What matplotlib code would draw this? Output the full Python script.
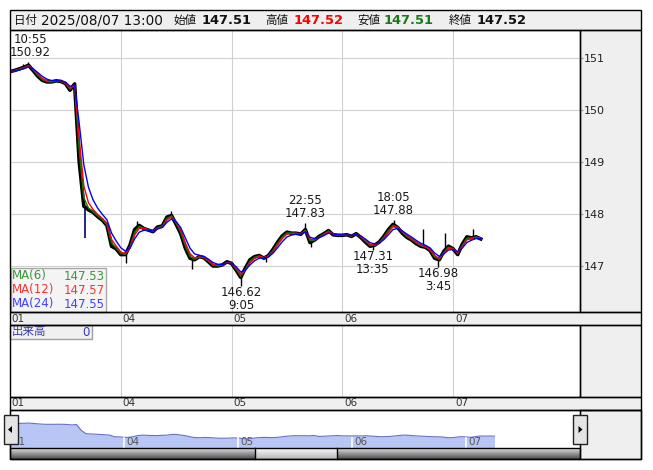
import numpy as np
import pandas as pd
import matplotlib
matplotlib.use('Agg')
import matplotlib.pyplot as plt
from matplotlib.patches import Rectangle, Polygon
from matplotlib.lines import Line2D
from matplotlib.transforms import Affine2D, blended_transform_factory

plt.rcParams['font.family'] = ['DejaVu Sans', 'Noto Sans CJK JP']

# 1時間ごとの終値 (8/1 7:00 から)
price = [150.74, 150.76, 150.79, 150.82, 150.86, 150.76, 150.65, 150.57, 150.54, 150.54,
         150.56, 150.55, 150.51, 150.38, 150.50, 149.00, 148.15, 148.08, 148.03, 147.95,
         147.88, 147.78, 147.38, 147.33, 147.22, 147.22, 147.40, 147.70, 147.78, 147.72,
         147.69, 147.66, 147.75, 147.77, 147.94, 147.97, 147.80, 147.62, 147.34, 147.15,
         147.12, 147.18, 147.16, 147.08, 147.00, 147.00, 147.02, 147.08, 147.05, 146.92,
         146.78, 146.96, 147.12, 147.18, 147.20, 147.15, 147.20, 147.32, 147.46, 147.58,
         147.65, 147.63, 147.63, 147.61, 147.70, 147.45, 147.50, 147.57, 147.62, 147.68,
         147.60, 147.59, 147.59, 147.60, 147.57, 147.62, 147.55, 147.46, 147.38, 147.40,
         147.46, 147.57, 147.70, 147.80, 147.74, 147.63, 147.55, 147.50, 147.43, 147.38,
         147.36, 147.30, 147.15, 147.12, 147.28, 147.38, 147.33, 147.22, 147.42, 147.56,
         147.54, 147.56, 147.52]
hours = np.arange(len(price))

day_pos = [0, 24, 48, 72, 96]
day_labels = ['01', '04', '05', '06', '07']
y_ticks = [147, 148, 149, 150, 151]

# 高値・安値ラベル
ext_h = [3.9, 63.9, 83.1, 50.1, 78.6, 92.75]
ext_v = [150.92, 147.83, 147.88, 146.62, 147.31, 146.98]
ext_t = ['10:55', '22:55', '18:05', '9:05', '13:35', '3:45']
ext_up = [True, True, True, False, False, False]

# ヒゲ
wick_h = [2.8, 3.9, 25.2, 27.5, 34.8, 39.5, 50.1, 55.5, 63.9, 65.2, 78.6, 83.1, 89.5, 92.75, 94.3, 100.3]
wick_v = [150.88, 150.92, 147.06, 147.86, 148.06, 146.94, 146.62, 147.08, 147.83, 147.36,
          147.31, 147.88, 147.72, 146.98, 147.63, 147.72]
spike_h = [16.3]
spike_v = [147.54]

ma_names = ['MA(6)', 'MA(12)', 'MA(24)']
ma_last = ['147.53', '147.57', '147.55']

date_str = '2025/08/07 13:00'
head_labels = ['始値', '高値', '安値', '終値']
head_vals = ['147.51', '147.52', '147.51', '147.52']

W, H = 653, 470
fig = plt.figure(figsize=(W / 100, H / 100), dpi=100)
fig.patch.set_facecolor('white')
T = Affine2D().scale(1 / W, -1 / H).translate(0, 1) + fig.transFigure


def rect_ax(x0, y0, x1, y1):
    a = fig.add_axes([x0 / W, 1 - y1 / H, (x1 - x0) / W, (y1 - y0) / H])
    for s in a.spines.values():
        s.set_visible(False)
    return a


def panel(x0, y0, x1, y1, fc='#efefef'):
    fig.add_artist(Rectangle((x0, y0), x1 - x0, y1 - y0, transform=T, fc=fc, ec='none', zorder=-1))
    fig.add_artist(Rectangle((x0, y0), x1 - x0, y1 - y0, transform=T, fill=False, ec='black', lw=1, zorder=6))


# 背景パネル
panel(10, 10, 641, 30)
panel(580, 30, 641, 312)
panel(10, 312, 641, 325)
panel(580, 325, 641, 397)
panel(10, 397, 641, 410)
panel(580, 410, 641, 459)

# ヘッダー
fig.text(13.5, 24, '日付', transform=T, fontsize=8.3, color='#111')
fig.text(41, 24, date_str, transform=T, fontsize=9.8, color='#111')
head_lx = [173, 265, 357, 449]
head_vx = [202, 294, 384, 477]
head_c = ['#111111', '#ff0000', '#1a7a1a', '#111111']
for lab, val, lx, vx, c in zip(head_labels, head_vals, head_lx, head_vx, head_c):
    fig.text(lx, 24, lab, transform=T, fontsize=8.3, color='#111')
    fig.text(vx, 24, val, transform=T, fontsize=9.4, fontweight='bold', color=c)

# メインチャート
ax = rect_ax(10, 30, 580, 312)
ax.set_xlim(0, 123.5)
ax.set_ylim(146.115, 151.538)
ax.set_xticks(day_pos)
ax.set_xticklabels([])
ax.tick_params(axis='x', length=0)
ax.yaxis.tick_right()
ax.set_yticks(y_ticks)
ax.tick_params(axis='y', length=2, color='#999999', pad=1, labelsize=8, labelcolor='#222222')
ax.grid(color='#d0d0d0', lw=0.8)
ax.set_axisbelow(True)

base = np.interp(wick_h, hours, price)
ax.vlines(wick_h, base, wick_v, color='black', lw=1)
ax.vlines(spike_h, np.interp(spike_h, hours, price), spike_v, color='#000080', lw=1.2)
ax.plot(hours, price, color='black', lw=2.6)
s = pd.Series(price)
for a, c in zip([0.85, 0.7, 0.5], ['#008000', '#ff0000', '#0000ff']):
    ax.plot(hours, s.ewm(alpha=a, adjust=False).mean(), color=c, lw=1)

for h, v, t, up in zip(ext_h, ext_v, ext_t, ext_up):
    dx = 1.5 if h < 10 else 0
    if up:
        ax.annotate(f'{t}\n{v:.2f}', xy=(h, v), xytext=(dx, 2), textcoords='offset points',
                    ha='center', va='bottom', fontsize=8.5, linespacing=1.0, color='#1a1a1a')
    else:
        ax.annotate(f'{v:.2f}\n{t}', xy=(h, v), xytext=(0, 0), textcoords='offset points',
                    ha='center', va='top', fontsize=8.5, linespacing=1.0, color='#1a1a1a')

# MA 凡例
fig.add_artist(Rectangle((11, 268), 95, 44, transform=T, fc='#f3f3f3', ec='#a0a0a0', lw=1, zorder=4, alpha=0.9))
ma_text_c = ['#3a963a', '#ff3030', '#4040ff']
for i, (n, v) in enumerate(zip(ma_names, ma_last)):
    y = 276 + i * 14
    fig.text(12, y, n, transform=T, fontsize=8.5, color=ma_text_c[i], va='center', zorder=5)
    fig.text(105, y, v, transform=T, fontsize=8.5, color=ma_text_c[i], va='center', ha='right', zorder=5)

# 日付ストリップ
B = blended_transform_factory(ax.transData, T)
for d, lab in zip(day_pos, day_labels):
    fig.text(d + 0.4, 318.5, lab, transform=B, fontsize=7.5, color='#333', va='center')
    fig.text(d + 0.4, 403.5, lab, transform=B, fontsize=7.5, color='#333', va='center')

# 出来高
vax = rect_ax(10, 325, 580, 397)
vax.set_xlim(0, 123.5)
vax.set_xticks(day_pos)
vax.set_yticks([])
vax.tick_params(axis='x', length=0, labelbottom=False)
vax.grid(axis='x', color='#d0d0d0', lw=0.8)
fig.add_artist(Rectangle((10, 325), 82, 14, transform=T, fc='#f0f0f0', ec='#a0a0a0', lw=1, zorder=4))
fig.text(12, 332, '出来高', transform=T, fontsize=8.3, color='#3a3ab0', va='center', zorder=5)
fig.text(90, 332, '0', transform=T, fontsize=8.5, color='#3a3ab0', va='center', ha='right', zorder=5)

# ナビゲーター
nax = rect_ax(10, 410, 580, 448)
nax.set_xlim(0, 120)
nax.set_ylim(144.5, 154.2)
nax.set_xticks([])
nax.set_yticks([])
nax.fill_between(hours, price, 144.5, color='#b8c6f6', lw=0)
nax.plot(hours, price, color='#6870c0', lw=0.8)
for d, lab in zip(day_pos, day_labels):
    nax.axvline(d, ymin=0, ymax=0.27, color='white', lw=1.2)
    nax.text(d + 0.5, 0.15, lab, transform=blended_transform_factory(nax.transData, nax.transAxes),
             fontsize=7.5, color='#555', va='center')
fig.add_artist(Line2D([10, 10], [410, 448], transform=T, color='#1aa0d8', lw=1, zorder=5))
fig.add_artist(Line2D([580, 580], [410, 448], transform=T, color='#1aa0d8', lw=1, zorder=5))
for x0, tri in [(4, [(8, 429.5), (12, 426), (12, 433)]), (573, [(582.5, 429.5), (578.5, 426), (578.5, 433)])]:
    fig.add_artist(Rectangle((x0, 415), 13.5, 29, transform=T, fc='#e4e4e4', ec='#222', lw=1, zorder=7))
    fig.add_artist(Polygon(tri, closed=True, transform=T, fc='black', ec='none', zorder=8))

# スクロールバー
sax = rect_ax(10, 448, 580, 459)
col = np.linspace(0.86, 0.32, 11)[:, None] * np.ones((11, 570))
col[:, 245:327] = np.linspace(0.97, 0.72, 11)[:, None]
sax.imshow(col, cmap='gray', vmin=0, vmax=1, aspect='auto', interpolation='bilinear')
sax.set_xticks([])
sax.set_yticks([])
fig.add_artist(Rectangle((10, 448), 570, 11, transform=T, fill=False, ec='black', lw=1, zorder=6))
for x in [255, 337]:
    fig.add_artist(Line2D([x, x], [448, 459], transform=T, color='black', lw=1, zorder=6))

# 枠線
for x0, y0, x1, y1 in [(10, 30, 580, 312), (10, 325, 580, 397), (10, 410, 641, 459)]:
    fig.add_artist(Rectangle((x0, y0), x1 - x0, y1 - y0, transform=T, fill=False, ec='black', lw=1, zorder=6))

fig.savefig('out.png', dpi=100)
